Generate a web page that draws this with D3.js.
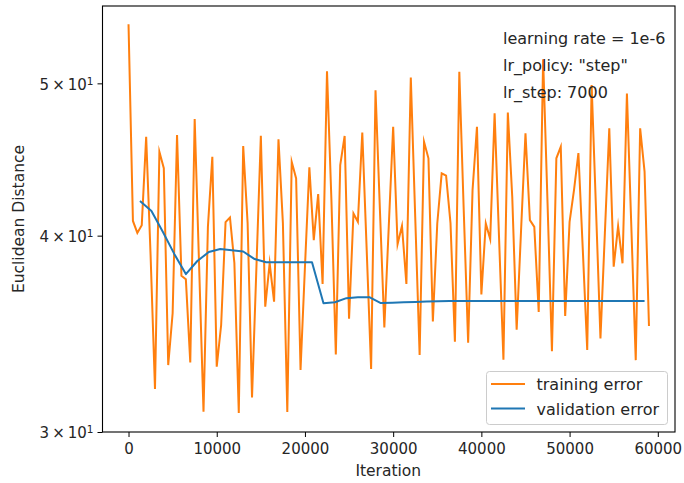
<!DOCTYPE html>
<html>
<head>
<meta charset="utf-8">
<script src="https://cdn.jsdelivr.net/npm/d3@7"></script>
<style>
  html, body { margin: 0; padding: 0; background: #fff; }
  svg { display: block; }
  text { font-family: "DejaVu Sans", sans-serif; fill: #262626; }
</style>
</head>
<body>
<svg id="chart" width="684" height="483"></svg>
<script>
// ---- data ----
const trainStep = 500;
const trainIter = d3.range(0, 59001, trainStep);
const trainError = [
  54.52, 40.87, 40.16, 40.62, 46.24, 38.88, 31.95, 45.23, 44.16, 33.09,
  35.70, 46.35, 37.72, 37.52, 33.22, 47.45, 38.31, 30.91, 40.52, 44.90,
  33.01, 35.09, 40.80, 41.08, 38.43, 30.85, 45.61, 40.74, 31.56, 38.20,
  46.30, 36.05, 38.41, 36.31, 46.06, 40.74, 30.89, 44.57, 43.50, 32.85,
  38.20, 44.21, 39.74, 42.51, 37.27, 50.90, 42.14, 33.61, 44.36, 46.29,
  35.42, 41.32, 40.82, 46.53, 39.16, 32.90, 49.50, 41.52, 34.96, 40.52,
  46.92, 39.50, 40.58, 37.27, 50.43, 41.12, 33.58, 45.90, 44.80, 35.27,
  40.72, 43.82, 43.67, 40.74, 34.24, 50.86, 41.52, 34.19, 42.76, 46.92,
  36.70, 40.72, 39.80, 47.85, 39.93, 33.35, 47.90, 42.35, 34.85, 40.32,
  46.47, 40.92, 40.52, 35.77, 51.80, 41.96, 33.77, 44.80, 45.56, 35.56,
  40.82, 42.76, 45.14, 39.16, 33.83, 49.87, 41.52, 34.41, 40.15, 46.81,
  38.22, 40.56, 38.41, 49.26, 40.52, 33.33, 46.81, 43.94, 35.04
];
const valStep = 1300;
const valIter = d3.range(1300, 58501, valStep);
const valError = [
  42.08, 41.47, 40.21, 38.93, 37.81, 38.54, 39.05, 39.22, 39.16, 39.08,
  38.65, 38.47, 38.47, 38.47, 38.47, 38.47, 36.23, 36.28, 36.50, 36.55,
  36.55, 36.24, 36.26, 36.28, 36.30, 36.32, 36.33, 36.35, 36.35, 36.35,
  36.35, 36.35, 36.35, 36.35, 36.35, 36.35, 36.35, 36.35, 36.35, 36.35,
  36.35, 36.35, 36.35, 36.35, 36.35
];
const xTicks = [0, 10000, 20000, 30000, 40000, 50000, 60000];
const yTicks = [30, 40, 50];
const yTickMantissa = ["3", "4", "5"];
const annotations = ["learning rate = 1e-6", "lr_policy: \"step\"", "lr_step: 7000"];
const seriesNames = ["training error", "validation error"];
const seriesColors = ["#ff7f0e", "#1f77b4"];

// ---- layout ----
const L = 102.5, R = 675, T = 6, B = 432;
const svg = d3.select("#chart");

const x = d3.scaleLinear().domain([-2950, 61950]).range([L, R]);
const y = d3.scaleLog().domain([30, 56]).range([B, T]);

// lines
const line = d3.line().x(d => x(d[0])).y(d => y(d[1]));
svg.append("path")
  .datum(trainIter.map((it, i) => [it, trainError[i]]))
  .attr("fill", "none").attr("stroke", seriesColors[0])
  .attr("stroke-width", 2).attr("stroke-linejoin", "miter").attr("stroke-miterlimit", 10)
  .attr("d", line);
svg.append("path")
  .datum(valIter.map((it, i) => [it, valError[i]]))
  .attr("fill", "none").attr("stroke", seriesColors[1])
  .attr("stroke-width", 2).attr("stroke-linejoin", "round")
  .attr("d", line);

// axes
const xAxis = d3.axisBottom(x).tickValues(xTicks).tickSize(5).tickPadding(6).tickFormat(d3.format("d"));
const gx = svg.append("g").attr("transform", `translate(0,${B})`).call(xAxis);
gx.select(".domain").remove();
gx.selectAll("line").attr("stroke", "#000").attr("stroke-width", 1);
gx.selectAll("text").attr("font-size", 15).attr("font-family", "DejaVu Sans").attr("fill", "#262626");

const yAxis = d3.axisLeft(y).tickValues(yTicks).tickSize(5).tickPadding(5).tickFormat(() => "");
const gy = svg.append("g").attr("transform", `translate(${L},0)`).call(yAxis);
gy.select(".domain").remove();
gy.selectAll("line").attr("stroke", "#000").attr("stroke-width", 1);
gy.selectAll(".tick").each(function(d, i) {
  const t = d3.select(this).select("text")
    .attr("font-size", 15).attr("font-family", "DejaVu Sans").attr("fill", "#262626")
    .attr("x", -9).attr("dy", "0.38em").attr("text-anchor", "end");
  t.text(null);
  t.append("tspan").text(yTickMantissa[yTicks.indexOf(d)] + "\u2009\u00d7\u200910");
  t.append("tspan").attr("dy", "-0.45em").attr("font-size", 10.5).text("1");
});

// frame
svg.append("rect").attr("x", L).attr("y", T).attr("width", R - L).attr("height", B - T)
  .attr("fill", "none").attr("stroke", "#000").attr("stroke-width", 1.1);

// axis labels
svg.append("text").attr("x", (L + R) / 2 - 0.5).attr("y", 476).attr("text-anchor", "middle")
  .attr("font-size", 15.5).text("Iteration");
svg.append("text").attr("transform", `translate(24,${(T + B) / 2 + 0}) rotate(-90)`)
  .attr("text-anchor", "middle").attr("font-size", 15.5).text("Euclidean Distance");

// annotations
annotations.forEach((s, i) => {
  svg.append("text").attr("x", 503).attr("y", 43.5 + i * 27).attr("font-size", 16).text(s);
});

// legend
const lg = svg.append("g");
lg.append("rect").attr("x", 486.5).attr("y", 371.5).attr("width", 181).attr("height", 53)
  .attr("rx", 3).attr("fill", "#fff").attr("fill-opacity", 0.8)
  .attr("stroke", "#cccccc").attr("stroke-width", 1);
seriesNames.forEach((s, i) => {
  const yy = 384 + i * 24.5;
  lg.append("line").attr("x1", 491).attr("x2", 525).attr("y1", yy).attr("y2", yy)
    .attr("stroke", seriesColors[i]).attr("stroke-width", 2);
  lg.append("text").attr("x", 536.5).attr("y", yy + 6).attr("font-size", 16).text(s);
});
</script>
</body>
</html>
